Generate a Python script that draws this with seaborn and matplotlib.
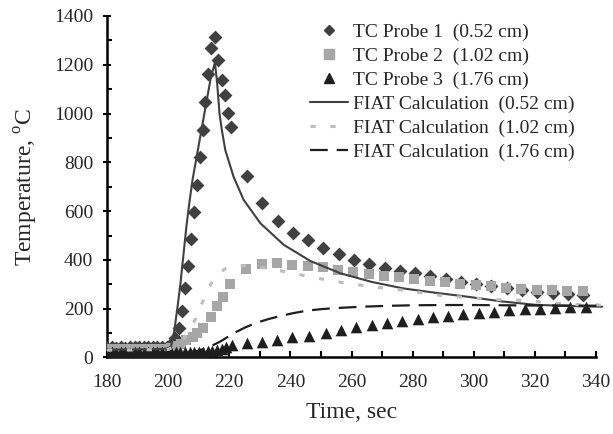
import matplotlib
matplotlib.use("Agg")
import matplotlib.pyplot as plt
import seaborn as sns
from matplotlib.lines import Line2D
from matplotlib.ticker import MultipleLocator

sns.set_theme(style="ticks")
plt.rcParams['font.family'] = ['Liberation Serif', 'DejaVu Serif']
plt.rcParams['mathtext.fontset'] = 'custom'
plt.rcParams['mathtext.rm'] = 'Liberation Serif'

# TC probe measurements (time in sec, temperature in C)
tc1_time = [180, 181.5, 183, 184.5, 186, 187.5, 189, 190.5, 192, 193.5, 195, 196.5,
            198, 199.5, 201, 202.2, 203.6, 204.6, 205.6, 206.6, 207.6, 208.5, 209.4,
            210.4, 211.4, 212.2, 213.2, 214.1, 215.3, 216.4, 217.5, 218.6, 219.7,
            220.6, 225.8, 230.8, 235.8, 240.8, 245.8, 250.8, 255.8, 260.8, 265.8,
            270.8, 275.8, 280.8, 285.8, 290.8, 295.8, 300.8, 305.8, 310.8, 315.8,
            320.8, 325.8, 330.8, 335.8]
tc1_temp = [40, 41, 40, 41, 40, 42, 41, 42, 41, 42, 42, 43,
            43, 45, 55, 80, 120, 190, 283, 377, 486, 596, 708,
            823, 933, 1049, 1162, 1270, 1315, 1220, 1138, 1077, 1002,
            944, 744, 633, 561, 512, 482, 450, 424, 401, 383,
            367, 355, 345, 335, 322, 310, 300, 291, 283, 276,
            269, 264, 260, 257]

tc2_time = [180, 181.5, 183, 184.5, 186, 187.5, 189, 190.5, 192, 193.5, 195, 196.5,
            198, 199.5, 201, 202.6, 204.2, 206, 208, 209.6, 211.3, 214, 216.1,
            218.1, 220.3, 225.6, 230.6, 235.6, 240.6, 245.6, 250.6, 255.6, 260.6,
            265.6, 270.6, 275.6, 280.6, 285.6, 290.6, 295.6, 300.6, 305.6, 310.6,
            315.6, 320.6, 325.6, 330.6, 335.6]
tc2_temp = [32, 33, 33, 34, 33, 34, 34, 35, 34, 35, 35, 35,
            36, 36, 38, 48, 56, 70, 86, 100, 122, 167, 210,
            249, 302, 362, 385, 388, 381, 377, 371, 359, 349,
            343, 336, 328, 321, 315, 308, 302, 297, 293, 286,
            281, 278, 275, 272, 271]

tc3_time = [180, 181.5, 183, 184.5, 186, 187.5, 189, 190.5, 192, 193.5, 195, 196.5,
            198, 199.5, 201, 202.5, 204, 205.5, 207, 208.5, 210, 211.5, 213,
            214.5, 216, 217.5, 219, 220.9, 225.8, 230.7, 235.6, 240.6, 246.2,
            251.7, 256.6, 261.6, 266.6, 271.5, 276.6, 281.6, 286.6, 291.6, 296.6,
            301.6, 306.6, 311.6, 316.6, 321.6, 326.6, 331.6, 336.6]
tc3_temp = [20, 21, 20, 21, 21, 20, 21, 21, 20, 21, 21, 21,
            21, 22, 21, 22, 22, 22, 22, 23, 23, 24, 25,
            27, 30, 36, 43, 51, 58, 62, 70, 82, 88,
            99, 113, 124, 133, 143, 151, 158, 165, 172, 177,
            183, 187, 193, 197, 200, 203, 206, 208]

# FIAT calculations
fiat1_time = [180, 190, 200, 201, 202, 203, 204, 205, 206, 207, 208, 209, 210, 211,
              212, 213, 214, 215.3, 216, 216.8, 217.6, 218.7, 221.4, 224.7, 230.2,
              237.8, 246.6, 256.4, 266.5, 277, 287, 298, 309, 320, 331, 342]
fiat1_temp = [32, 33, 36, 48, 110, 200, 300, 420, 540, 640, 730, 800, 870, 940,
              1010, 1080, 1150, 1208, 1130, 1000, 930, 850, 741, 646, 550,
              462, 395, 345, 310, 283, 266, 249, 230, 216, 211, 208]

fiat2_time = [180, 190, 200, 203, 205, 207, 209, 211, 214, 216.5, 219, 222, 226, 231,
              239, 246, 253, 259.6, 266, 274, 280, 287, 293, 300, 306, 313, 320,
              327, 334, 342]
fiat2_temp = [30, 31, 33, 50, 75, 110, 160, 220, 302, 345, 366, 375, 377, 368,
              350, 332, 315, 302, 291, 280, 271, 257, 250, 244, 237, 236, 230,
              223, 217, 215]

fiat3_time = [180, 195, 205, 209, 213, 217, 221.4, 225, 229, 233, 236.7, 241, 245.5,
              250, 254.2, 263, 272.8, 280, 290, 300, 310, 320, 330, 342]
fiat3_temp = [18, 18, 20, 25, 40, 65, 99, 122, 143, 158, 170, 182, 192,
              198, 202, 208, 212, 214, 215, 215, 214, 213, 213, 212]

labels = ['TC Probe 1  (0.52 cm)', 'TC Probe 2  (1.02 cm)', 'TC Probe 3  (1.76 cm)',
          'FIAT Calculation  (0.52 cm)', 'FIAT Calculation  (1.02 cm)',
          'FIAT Calculation  (1.76 cm)']

C_DARK = '#404040'
C_LIGHT = '#a6a6a6'
C_BLACK = '#1e1e1e'
C_DOT = '#bdbdbd'

fig = plt.figure(figsize=(6.13, 4.34), dpi=100)
ax = fig.add_axes([0.1746, 0.1763, 0.7977, 0.787])

sns.scatterplot(x=tc1_time, y=tc1_temp, ax=ax, marker='D', s=50, color=C_DARK,
                linewidth=0, zorder=3)
sns.scatterplot(x=tc2_time, y=tc2_temp, ax=ax, marker='s', s=62, color=C_LIGHT,
                linewidth=0, zorder=3)
sns.scatterplot(x=tc3_time, y=tc3_temp, ax=ax, marker='^', s=70, color=C_BLACK,
                linewidth=0, zorder=3)

sns.lineplot(x=fiat1_time, y=fiat1_temp, ax=ax, color=C_DARK, linewidth=1.5,
             sort=False, estimator=None, zorder=4, clip_on=False)
sns.lineplot(x=fiat2_time, y=fiat2_temp, ax=ax, color=C_DOT, linewidth=2.2,
             linestyle=(0, (1.7, 4.8)), sort=False, estimator=None, zorder=4,
             clip_on=False)
sns.lineplot(x=fiat3_time, y=fiat3_temp, ax=ax, color=C_BLACK, linewidth=1.6,
             linestyle=(0, (8, 4)), sort=False, estimator=None, zorder=4,
             clip_on=False)

ax.set_xlim(180, 340)
ax.set_ylim(0, 1400)
ax.xaxis.set_major_locator(MultipleLocator(20))
ax.xaxis.set_minor_locator(MultipleLocator(10))
ax.yaxis.set_major_locator(MultipleLocator(200))
ax.yaxis.set_minor_locator(MultipleLocator(100))
ax.tick_params(axis='y', which='major', direction='inout', length=6, width=1.5,
               labelsize=14, pad=7, color='black')
ax.tick_params(axis='y', which='minor', direction='in', length=3.5, width=1.5,
               color='black')
ax.tick_params(axis='x', which='both', direction='in', length=4, width=1.5,
               labelsize=14, pad=12, color='black')
for side in ['top', 'right']:
    ax.spines[side].set_visible(False)
for side in ['left', 'bottom']:
    ax.spines[side].set_linewidth(1.8)
    ax.spines[side].set_color('black')

ax.set_xlabel('Time, sec', fontsize=17, labelpad=8)
ax.set_ylabel('Temperature, $^{\\rm o}$C', fontsize=17, labelpad=10)

handles = [
    Line2D([], [], marker='D', color=C_DARK, linestyle='none', markersize=5.5),
    Line2D([], [], marker='s', color=C_LIGHT, linestyle='none', markersize=6.5),
    Line2D([], [], marker='^', color=C_BLACK, linestyle='none', markersize=7.5),
    Line2D([], [], color=C_DARK, linewidth=1.5),
    Line2D([], [], color=C_DOT, linewidth=2.2, linestyle=(0, (1.7, 4.8))),
    Line2D([], [], color=C_BLACK, linewidth=1.6, linestyle=(0, (8, 4))),
]
fig.legend(handles, labels, loc='upper left', bbox_to_anchor=(0.506, 0.947),
           frameon=False, fontsize=14, handlelength=1.95, handletextpad=0.25,
           labelspacing=0.33, borderpad=0, borderaxespad=0)

fig.savefig('out.png', dpi=100)
